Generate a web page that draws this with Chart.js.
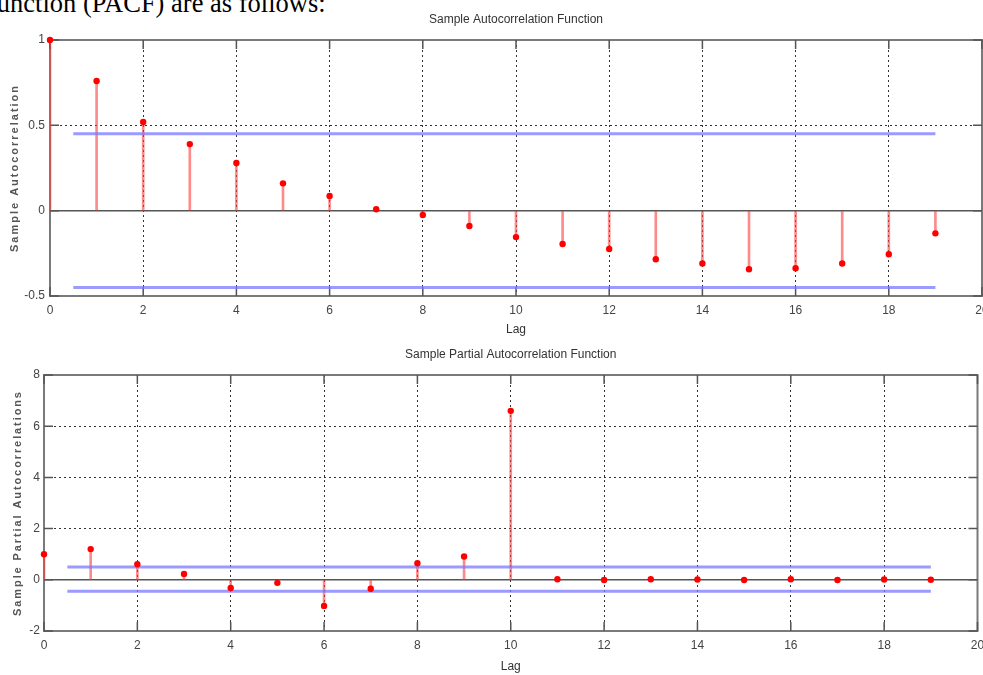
<!DOCTYPE html>
<html><head><meta charset="utf-8">
<script src="https://cdn.jsdelivr.net/npm/chart.js@4.4.0/dist/chart.umd.min.js"></script>
<style>
html,body{margin:0;padding:0;background:#fff;width:983px;height:675px;overflow:hidden;position:relative;}
#intro{position:absolute;top:-10px;left:0;font-family:"Liberation Serif","Times New Roman",serif;font-size:26.5px;line-height:1;white-space:nowrap;color:#000;}
#c1{position:absolute;left:0;top:0;}
#c2{position:absolute;left:0;top:340px;}
</style></head><body>
<div id="intro">function (PACF) are as follows:</div>
<canvas id="c1" width="995" height="340"></canvas>
<canvas id="c2" width="983" height="335"></canvas>
<script>
// ---- data ----
const lags = [0,1,2,3,4,5,6,7,8,9,10,11,12,13,14,15,16,17,18,19];
const acfValues = [1.0,0.76,0.52,0.39,0.28,0.16,0.086,0.008,-0.025,-0.09,-0.155,-0.195,-0.225,-0.285,-0.31,-0.343,-0.337,-0.31,-0.255,-0.133];
const pacfValues = [1.0,1.2,0.61,0.23,-0.32,-0.12,-1.02,-0.35,0.65,0.91,6.6,0.02,-0.01,0.02,0.01,-0.01,0.02,-0.01,0.01,0.0];
const boundLags = [0.5,19];
const acfBounds = [0.45,-0.45];
const pacfBounds = [0.5,-0.45];
const baselineLags = [0,20];
const xTicks = [0,2,4,6,8,10,12,14,16,18,20];
const acfTicks = [-0.5,0,0.5,1];
const pacfTicks = [-2,0,2,4,6,8];
const acfTitle = 'Sample Autocorrelation Function';
const pacfTitle = 'Sample Partial Autocorrelation Function';
const acfYLabel = 'Sample Autocorrelation';
const pacfYLabel = 'Sample Partial Autocorrelations';
const xLabel = 'Lag';

const FONT = '"Liberation Sans Narrow","Arial Narrow","Liberation Sans",Arial,sans-serif';

const matlabFrame = {
  id: 'matlabFrame',
  beforeDatasetsDraw(chart, args, opts) {
    const {ctx, chartArea: a, scales: {x, y}} = chart;
    ctx.save();
    ctx.strokeStyle = '#7a7a7a'; ctx.lineWidth = 2;
    ctx.strokeRect(a.left, a.top, a.right - a.left, a.bottom - a.top);
    ctx.lineWidth = 1.5; ctx.strokeStyle = '#555';
    const L = 9;
    ctx.beginPath();
    x.ticks.forEach(t => { const px = x.getPixelForValue(t.value);
      ctx.moveTo(px, a.top); ctx.lineTo(px, a.top + L);
      ctx.moveTo(px, a.bottom); ctx.lineTo(px, a.bottom - L); });
    y.ticks.forEach(t => { const py = y.getPixelForValue(t.value);
      ctx.moveTo(a.left, py); ctx.lineTo(a.left + L, py);
      ctx.moveTo(a.right, py); ctx.lineTo(a.right - L, py); });
    ctx.stroke();
    ctx.restore();
  },
  afterDraw(chart, args, opts) {
    const {ctx, chartArea: a} = chart;
    ctx.save();
    ctx.translate(opts.titleX, (a.top + a.bottom) / 2);
    ctx.rotate(-Math.PI / 2);
    ctx.font = 'bold 11px "Liberation Sans", Arial, sans-serif';
    ctx.fillStyle = '#555';
    if ('letterSpacing' in ctx) ctx.letterSpacing = opts.spacing;
    ctx.textAlign = 'center'; ctx.textBaseline = 'middle';
    ctx.fillText(opts.text, 0, 0);
    ctx.restore();
  }
};

function makeChart(el, g) {
  return new Chart(el, {
    type: 'scatter',
    data: {
      datasets: [
        { type: 'scatter', data: lags.map((l, i) => ({x: l, y: g.values[i]})),
          backgroundColor: '#ff0000', borderColor: '#ff0000', pointRadius: 3.2, pointBorderWidth: 0, clip: false, order: 0 },
        { type: 'line', data: boundLags.map(l => ({x: l, y: g.bounds[0]})),
          borderColor: 'rgba(120,120,255,0.75)', borderWidth: 3, pointRadius: 0, order: 1 },
        { type: 'line', data: boundLags.map(l => ({x: l, y: g.bounds[1]})),
          borderColor: 'rgba(120,120,255,0.75)', borderWidth: 3, pointRadius: 0, order: 1 },
        { type: 'bar', data: lags.map((l, i) => ({x: l, y: g.values[i]})),
          backgroundColor: 'rgba(255,60,60,0.6)', barThickness: 2, order: 2 },
        { type: 'line', data: baselineLags.map(l => ({x: l, y: 0})),
          borderColor: '#555', borderWidth: 1.5, pointRadius: 0, order: 3 }
      ]
    },
    options: {
      responsive: false, animation: false, events: [],
      layout: { padding: { left: 0, right: g.padRight, top: 0, bottom: 0 } },
      plugins: {
        legend: { display: false }, tooltip: { enabled: false },
        title: { display: true, text: g.title, fullSize: false, color: '#333',
          font: { family: FONT, size: 12, weight: 'normal' }, padding: g.titlePad },
        matlabFrame: { text: g.yLabel, titleX: g.yTitleX, spacing: g.spacing }
      },
      scales: {
        x: { type: 'linear', min: 0, max: 20, offset: false,
          afterBuildTicks: s => { s.ticks = xTicks.map(v => ({value: v})); },
          afterFit: s => { s.height = g.xAxisH; s.paddingLeft = 0; s.paddingRight = 0; },
          grid: { color: '#333', lineWidth: 1, drawTicks: false, offset: false },
          border: { display: false, dash: [2, 3] },
          ticks: { color: '#444', font: { family: FONT, size: 12 }, padding: g.xTickPad, maxRotation: 0, autoSkip: false,
            callback: v => String(v) },
          title: { display: true, text: xLabel, color: '#333', font: { family: FONT, size: 12 }, padding: { top: 0, bottom: g.xTitlePad } }
        },
        y: { type: 'linear', min: g.yMin, max: g.yMax,
          afterBuildTicks: s => { s.ticks = g.yTicks.map(v => ({value: v})); },
          afterFit: s => { s.width = g.yAxisW; s.paddingTop = 0; s.paddingBottom = 0; },
          grid: { color: '#333', lineWidth: 1, drawTicks: false },
          border: { display: false, dash: [2, 3] },
          ticks: { color: '#444', font: { family: FONT, size: 12 }, padding: g.yTickPad, autoSkip: false,
            callback: v => String(v) }
        }
      }
    },
    plugins: [matlabFrame]
  });
}

makeChart(document.getElementById('c1'), {
  values: acfValues, bounds: acfBounds, yTicks: acfTicks, yMin: -0.5, yMax: 1,
  title: acfTitle, yLabel: acfYLabel, yTitleX: 15, spacing: '2px',
  padRight: 13, titlePad: { top: 12.8, bottom: 12.8 }, xAxisH: 44, yAxisW: 50,
  xTickPad: 7, xTitlePad: 2.8, yTickPad: 5
});
makeChart(document.getElementById('c2'), {
  values: pacfValues, bounds: pacfBounds, yTicks: pacfTicks, yMin: -2, yMax: 8,
  title: pacfTitle, yLabel: pacfYLabel, yTitleX: 18, spacing: '1.9px',
  padRight: 5.5, titlePad: { top: 7.8, bottom: 12.8 }, xAxisH: 44, yAxisW: 44,
  xTickPad: 7.5, xTitlePad: 0.8, yTickPad: 4
});

const intro = document.getElementById('intro');
intro.style.left = (326 - intro.offsetWidth) + 'px';
</script>
</body></html>
